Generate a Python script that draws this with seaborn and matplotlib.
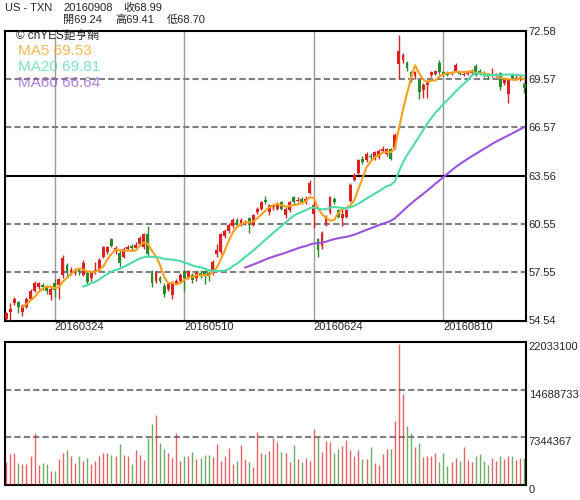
import numpy as np
import pandas as pd
import seaborn as sns
import matplotlib.pyplot as plt

# daily candles TXN, 2016-03-08 .. 2016-09-08 (129 sessions)
opens = [54.65, 55.10, 55.65, 55.70, 55.05, 55.40, 55.90, 56.40, 56.65, 56.75,
         56.70, 56.10, 56.90, 56.75, 57.40, 58.00, 57.50, 57.55, 57.70, 57.40,
         57.50, 57.20, 57.55, 57.70, 58.50, 58.80, 59.60, 58.85, 58.75, 58.50,
         59.00, 59.15, 59.05, 59.30, 59.10, 59.95, 57.50, 57.00, 57.20, 56.70,
         56.50, 56.10, 56.90, 57.00, 57.60, 57.20, 57.40, 57.20, 57.50, 57.60,
         57.50, 57.50, 58.70, 58.80, 59.80, 60.10, 60.40, 60.80, 60.50, 60.60,
         60.90, 60.50, 61.30, 61.50, 62.05, 61.30, 61.60, 61.50, 61.90, 61.10,
         61.40, 62.20, 61.95, 62.10, 61.95, 62.50, 61.20, 59.60, 59.20, 60.50,
         61.30, 62.10, 61.40, 60.90, 61.00, 62.00, 63.30, 63.70, 64.60, 64.50,
         64.80, 64.60, 64.70, 65.10, 64.90, 65.20, 65.30, 70.50, 70.75, 70.60,
         70.00, 69.75, 69.50, 68.90, 69.20, 69.80, 69.90, 70.60, 70.00, 69.95,
         69.90, 70.10, 69.95, 69.85, 69.90, 69.95, 70.40, 70.10, 69.95, 69.85,
         69.75, 69.80, 69.95, 69.35, 68.65, 69.85, 69.75, 69.55, 69.24]
closes = [55.00, 55.25, 55.85, 55.35, 55.45, 55.90, 56.40, 56.90, 56.85, 56.60,
          56.40, 56.50, 56.45, 57.10, 58.40, 57.50, 57.70, 57.65, 57.55, 58.15,
          56.95, 57.50, 57.70, 58.30, 59.10, 59.10, 59.20, 59.05, 58.10, 59.00,
          59.10, 59.05, 59.25, 59.70, 59.90, 58.70, 56.85, 57.50, 57.00, 56.20,
          56.80, 56.90, 57.00, 57.40, 57.20, 57.60, 57.05, 57.50, 57.40, 57.30,
          57.35, 58.20, 58.90, 59.90, 60.10, 60.50, 60.80, 60.50, 60.80, 60.65,
          60.50, 61.10, 61.45, 61.90, 61.90, 61.70, 61.65, 61.80, 61.50, 61.50,
          61.90, 61.90, 62.05, 61.90, 62.10, 63.10, 61.70, 58.90, 60.00, 61.00,
          62.20, 61.90, 61.00, 61.20, 61.40, 63.00, 63.60, 64.50, 64.40, 64.90,
          64.70, 65.00, 65.10, 65.20, 65.20, 64.60, 66.10, 71.30, 71.05, 70.25,
          69.55, 70.00, 68.75, 69.20, 69.40, 70.00, 70.05, 70.00, 69.85, 69.85,
          69.95, 70.45, 69.90, 69.90, 69.95, 70.10, 69.85, 69.90, 69.80, 69.70,
          69.85, 69.85, 69.05, 69.55, 69.55, 69.65, 69.80, 69.70, 68.99]
highs = [55.10, 55.60, 56.00, 55.75, 55.55, 56.00, 56.50, 57.00, 56.95, 56.85,
         56.75, 56.60, 57.10, 57.20, 58.60, 58.10, 57.85, 57.80, 57.80, 58.30,
         57.60, 57.60, 58.20, 58.40, 59.20, 59.20, 59.70, 59.20, 58.90, 59.10,
         59.25, 59.30, 59.40, 59.80, 60.00, 60.40, 57.70, 57.60, 57.30, 56.90,
         56.90, 57.00, 57.15, 57.50, 57.70, 57.70, 57.50, 57.60, 57.70, 57.70,
         57.60, 58.30, 59.30, 60.00, 60.25, 60.60, 60.90, 60.90, 60.90, 60.80,
         61.00, 61.20, 61.60, 62.00, 62.30, 61.80, 61.80, 61.90, 62.00, 61.60,
         62.00, 62.30, 62.20, 62.20, 62.30, 63.30, 62.00, 59.70, 60.10, 61.10,
         62.30, 62.20, 61.50, 61.50, 61.50, 63.10, 63.70, 64.60, 64.80, 65.00,
         64.95, 65.10, 65.20, 65.40, 65.30, 65.25, 66.20, 72.30, 71.20, 70.70,
         70.10, 70.10, 69.60, 69.30, 69.50, 70.10, 70.15, 70.75, 70.10, 70.05,
         70.05, 70.60, 70.05, 70.00, 70.05, 70.20, 70.50, 70.20, 70.05, 69.95,
         70.25, 69.95, 70.00, 69.65, 69.60, 69.95, 69.90, 69.80, 69.41]
lows = [54.55, 54.60, 55.50, 55.00, 54.80, 55.30, 55.80, 56.30, 56.50, 56.45,
        56.20, 55.80, 56.00, 55.90, 57.20, 57.30, 57.35, 57.40, 57.40, 57.30,
        56.80, 57.00, 57.45, 57.60, 58.40, 58.70, 59.10, 58.70, 57.90, 58.40,
        58.90, 58.90, 58.95, 59.20, 59.00, 58.50, 56.60, 56.90, 56.85, 56.00,
        56.40, 55.90, 56.80, 56.90, 56.40, 57.10, 56.90, 57.00, 57.20, 56.80,
        57.00, 57.40, 58.50, 58.70, 59.70, 60.00, 60.30, 60.40, 60.40, 60.50,
        60.00, 60.40, 61.20, 61.40, 61.80, 61.10, 61.40, 61.40, 61.40, 60.90,
        61.30, 61.80, 61.90, 61.80, 61.80, 62.40, 60.30, 58.50, 59.00, 60.40,
        61.20, 61.80, 60.90, 60.40, 60.90, 61.90, 63.20, 63.60, 64.30, 64.40,
        64.50, 64.50, 64.60, 65.00, 64.80, 64.50, 65.20, 69.60, 70.60, 70.10,
        69.40, 69.60, 68.30, 68.40, 68.40, 69.70, 69.85, 69.90, 69.75, 69.75,
        69.80, 70.00, 69.80, 69.75, 69.80, 69.85, 69.75, 69.80, 69.70, 69.60,
        69.70, 69.70, 68.90, 69.20, 68.10, 69.55, 69.65, 69.45, 68.70]
# volume in millions of shares
volumes = [3.6, 4.8, 5.0, 3.4, 3.3, 3.3, 4.5, 8.0, 3.1, 3.4,
           3.2, 2.2, 2.2, 4.0, 5.0, 5.4, 4.5, 3.4, 4.4, 3.7,
           4.2, 3.2, 3.7, 4.5, 5.0, 4.9, 4.6, 4.4, 6.3, 4.6,
           4.5, 3.3, 5.4, 4.6, 3.9, 7.2, 9.4, 10.8, 6.4, 5.6,
           5.0, 4.1, 8.0, 3.7, 4.5, 4.5, 5.1, 4.0, 4.2, 4.6,
           4.6, 4.3, 6.3, 3.7, 4.5, 5.7, 3.3, 3.7, 6.2, 4.0,
           3.5, 2.7, 8.2, 5.0, 4.8, 5.3, 7.3, 6.7, 5.1, 5.0,
           3.6, 6.2, 4.0, 3.5, 4.1, 3.7, 8.6, 7.4, 5.1, 6.8,
           6.7, 5.0, 5.5, 6.0, 6.9, 5.4, 4.5, 5.4, 4.0, 4.0,
           5.9, 3.4, 3.1, 4.8, 5.5, 5.6, 9.9, 21.8, 14.0, 9.1,
           8.0, 5.9, 6.4, 4.3, 4.4, 4.5, 4.9, 3.6, 5.0, 2.9,
           3.5, 4.1, 3.7, 5.9, 3.9, 3.5, 4.4, 4.8, 3.7, 3.1,
           4.2, 3.7, 4.5, 4.0, 4.5, 4.5, 3.9, 4.2, 4.1]

date_ticks = [12, 44, 76, 108]
date_labels = ["20160324", "20160510", "20160624", "20160810"]
price_ticks = [54.54, 57.55, 60.55, 63.56, 66.57, 69.57, 72.58]
vol_ticks = [0, 7344367, 14688733, 22033100]

RED = "#dd2020"
GREEN = "#2a8a2a"
MA_COLORS = {"ma5": "#f7a020", "ma20": "#50dca8", "ma60": "#9a55dd"}

df = pd.DataFrame({"open": opens, "close": closes, "high": highs,
                   "low": lows, "vol": np.array(volumes) * 1e6})
df["day"] = np.arange(len(df))
df["ma5"] = df["close"].rolling(5).mean()
df["ma20"] = df["close"].rolling(20).mean()
df["ma60"] = df["close"].rolling(60).mean()
up = df["close"] >= df["open"]
colors = np.where(up, RED, GREEN)

sns.set_style("white")
plt.rcParams["font.family"] = ["Liberation Sans", "Noto Sans CJK TC"]

fig = plt.figure(figsize=(5.8, 5.0), dpi=100)
ax = fig.add_axes([5 / 580, 1 - 320.5 / 500, 521 / 580, 289.8 / 500])
ax2 = fig.add_axes([5 / 580, 0.03, 521 / 580, 143 / 500])

# price panel
for x in date_ticks:
    ax.axvline(x, color="#9a9a9a", lw=1, zorder=1)
for y in [57.55, 60.55, 66.57, 69.57]:
    ax.axhline(y, color="#808080", lw=1.5, ls=(0, (3, 1.5)), zorder=1)
ax.axhline(63.56, color="black", lw=1.5, zorder=1)

ax.vlines(df["day"], df["low"], df["high"], colors=colors, lw=1, zorder=3)
body_lo = np.minimum(df["open"], df["close"])
body_h = np.maximum(np.abs(df["close"] - df["open"]), 0.06)
ax.bar(df["day"], body_h, bottom=body_lo, width=0.7, color=colors, lw=0, zorder=3)

for col, c in MA_COLORS.items():
    sns.lineplot(data=df, x="day", y=col, ax=ax, color=c, lw=1.5, zorder=4)

ax.set_xlim(-0.3, 128.4)
ax.set_ylim(54.54, 72.58)
ax.yaxis.tick_right()
ax.set_yticks(price_ticks, [f"{t:.2f}" for t in price_ticks])
ax.set_xticks(date_ticks, date_labels)
ax.tick_params(axis="y", length=0, pad=2, labelsize=8)
ax.tick_params(axis="x", length=0, pad=1, labelsize=8)
for lbl in ax.get_xticklabels():
    lbl.set_ha("left")
ax.set_xlabel("")
ax.set_ylabel("")

# volume panel
for y in vol_ticks[1:3]:
    ax2.axhline(y, color="#808080", lw=1.5, ls=(0, (3, 1.5)), zorder=1)
ax2.vlines(df["day"], 0, df["vol"], colors=colors, lw=1, alpha=0.7, zorder=3)
ax2.set_xlim(-0.3, 128.4)
ax2.set_ylim(0, 22033100)
ax2.yaxis.tick_right()
ax2.set_yticks(vol_ticks, [str(v) for v in vol_ticks])
ax2.set_xticks([])
ax2.tick_params(axis="y", length=0, pad=2, labelsize=8)
for lbl in ax2.get_yticklabels():
    lbl.set_va("top")

for a in (ax, ax2):
    for s in a.spines.values():
        s.set_color("black")
        s.set_linewidth(1.5)

# header and legend texts
fx = lambda px: px / 580
fy = lambda py: 1 - py / 500
fig.text(fx(5), fy(8), "US - TXN", fontsize=8, va="center")
fig.text(fx(63), fy(8), "20160908", fontsize=8, va="center")
fig.text(fx(123), fy(8), "收68.99", fontsize=8, va="center")
fig.text(fx(63), fy(20), "開69.24", fontsize=8, va="center")
fig.text(fx(115), fy(20), "高69.41", fontsize=8, va="center")
fig.text(fx(167), fy(20), "低68.70", fontsize=8, va="center")
fig.text(fx(16), fy(36), "© cnYES鉅亨網", fontsize=8.5, va="center")
fig.text(fx(18), fy(51), "MA5 69.53", fontsize=11, va="center", color=MA_COLORS["ma5"], alpha=0.75)
fig.text(fx(18), fy(67), "MA20 69.81", fontsize=11, va="center", color=MA_COLORS["ma20"], alpha=0.75)
fig.text(fx(18), fy(83), "MA60 66.64", fontsize=11, va="center", color=MA_COLORS["ma60"], alpha=0.75)

fig.savefig("out.png", dpi=100)
